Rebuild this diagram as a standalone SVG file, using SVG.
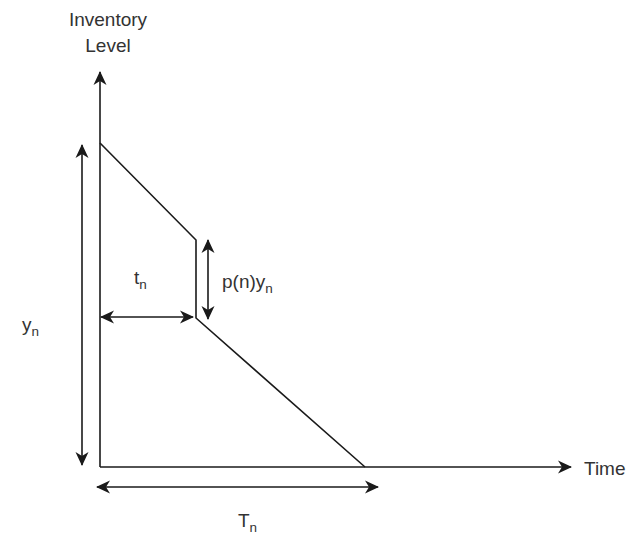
<svg xmlns="http://www.w3.org/2000/svg" width="633" height="537" viewBox="0 0 633 537">
<style>
.ln{stroke:#1a1a1a;stroke-width:1.6;fill:none}
.ar{stroke:#1a1a1a;stroke-width:1.6;fill:none;marker-end:url(#ah)}
.da{stroke:#1a1a1a;stroke-width:1.6;fill:none;marker-start:url(#ah);marker-end:url(#ah)}
text{font-family:"Liberation Sans",Arial,sans-serif;font-size:19px;fill:#333}
.sub{font-size:13.5px}
</style>
<defs>
<marker id="ah" markerWidth="16" markerHeight="14" refX="13" refY="7" orient="auto-start-reverse" markerUnits="userSpaceOnUse">
<path d="M0,0.5 L14,7 L0,13.5 L4,7 Z" fill="#1a1a1a"/>
</marker>
</defs>
<rect width="633" height="537" fill="#fff"/>
<g id="connectors">
<path class="ar" d="M100,467 L100,72"/>
<path class="ar" d="M100,467 L571,467"/>
<path class="ln" d="M100,143 L196,240 L196,318 L365,467"/>
<path class="da" d="M82,145 L82,465"/>
<path class="da" d="M101,317 L193,317"/>
<path class="da" d="M208,240 L208,319"/>
<path class="da" d="M97,487 L378,487"/>
</g>
<g id="label-inventory"><text x="108" y="26" text-anchor="middle">Inventory</text><text x="108" y="52" text-anchor="middle">Level</text></g>
<g id="label-time"><text x="584" y="475">Time</text></g>
<g id="label-yn"><text x="22" y="331">y<tspan class="sub" dy="5">n</tspan></text></g>
<g id="label-tn"><text x="134" y="284">t<tspan class="sub" dy="5">n</tspan></text></g>
<g id="label-pnyn"><text x="222" y="288">p(n)y<tspan class="sub" dy="5">n</tspan></text></g>
<g id="label-Tn"><text x="238" y="527">T<tspan class="sub" dy="5">n</tspan></text></g>
</svg>
